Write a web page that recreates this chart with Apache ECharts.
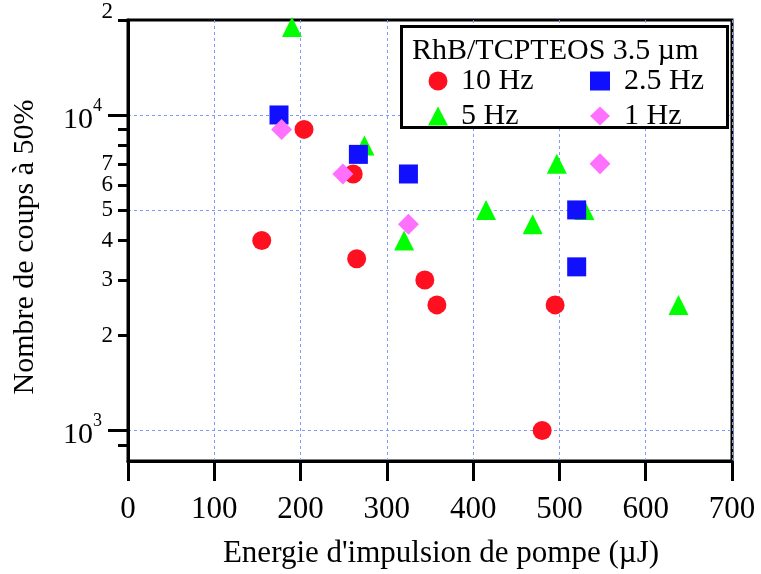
<!DOCTYPE html>
<html><head><meta charset="utf-8">
<script src="https://cdn.jsdelivr.net/npm/echarts@6/dist/echarts.min.js"></script>
<style>html,body{margin:0;padding:0;background:#fff}#c{width:761px;height:574px}</style>
</head><body><div id="c"></div>
<script>
const xTicks = [0, 100, 200, 300, 400, 500, 600, 700];
const yLabelValues = [1000, 2000, 3000, 4000, 5000, 6000, 7000, 10000, 20000];
const yMajorTicks = [1000, 10000];
const yMinorTicks = [900, 2000, 3000, 4000, 5000, 6000, 7000, 8000, 9000, 20000];
const yGridValues = [1000, 5000, 10000];

const legendTitle = 'RhB/TCPTEOS 3.5 µm';
const names = ['10 Hz', '5 Hz', '2.5 Hz', '1 Hz'];

const hz10_x = [155, 204, 261, 265, 344, 358, 495, 480];
const hz10_y = [4000, 9000, 6500, 3500, 3000, 2500, 2500, 1000];
const hz5_x = [190, 274, 320, 415, 469, 497, 529, 638];
const hz5_y = [19000, 8000, 4000, 5000, 4500, 7000, 5000, 2500];
const hz25_x = [175, 267, 325, 520, 520];
const hz25_y = [10000, 7500, 6500, 5000, 3300];
const hz1_x = [178, 249, 325, 547];
const hz1_y = [9000, 6500, 4500, 7000];

const F = 'Liberation Serif';
const zip = (a, b) => a.map((v, i) => [v, b[i]]);

const yBase = { type: 'log', logBase: 10, min: 800, max: 20000, position: 'left', offset: 0, gridIndex: 0 };
const gridLine = { color: '#7f99ff', type: [3, 3], width: 1 };

const option = {
  animation: false,
  backgroundColor: '#fff',
  title: {
    text: legendTitle, left: 407, top: 31, z: 20,
    textStyle: { fontFamily: F, fontSize: 30, fontWeight: 'normal', color: '#000' }
  },
  graphic: [{
    type: 'rect', z: 5, shape: { x: 401.5, y: 26.5, width: 326, height: 101 },
    style: { fill: '#fff', stroke: '#000', lineWidth: 3 }
  }],
  legend: [{
    data: [names[0], names[1]], orient: 'vertical', left: 423, top: 61, z: 20,
    itemWidth: 20, itemHeight: 19, itemGap: 5,
    textStyle: { fontFamily: F, fontSize: 30, color: '#000', padding: [0, 0, 0, 8] }
  }, {
    data: [names[2], names[3]], orient: 'vertical', left: 585, top: 61, z: 20,
    itemWidth: 20, itemHeight: 19, itemGap: 5,
    textStyle: { fontFamily: F, fontSize: 30, color: '#000', padding: [0, 0, 0, 9] }
  }],
  grid: { left: 128, right: 29, top: 20, bottom: 112, show: true, borderColor: '#000', borderWidth: 3, backgroundColor: 'transparent' },
  xAxis: {
    type: 'value', min: xTicks[0], max: xTicks[xTicks.length - 1], interval: 100,
    name: "Energie d'impulsion de pompe (µJ)", nameLocation: 'middle', nameGap: 77,
    nameTextStyle: { fontFamily: F, fontSize: 31, color: '#000', padding: [0, 0, 0, 22] },
    axisLine: { lineStyle: { color: '#000', width: 3 } },
    axisTick: { inside: false, length: 20, lineStyle: { color: '#000', width: 3 } },
    axisLabel: { fontFamily: F, fontSize: 31, color: '#000', margin: 33 },
    splitLine: { show: true, lineStyle: gridLine }
  },
  yAxis: [
    Object.assign({}, yBase, {
      name: 'Nombre de coups à 50%', nameLocation: 'middle', nameGap: 88,
      nameTextStyle: { fontFamily: F, fontSize: 30, color: '#000', padding: [0, 13, 0, 0] },
      axisLine: { show: true, lineStyle: { color: '#000', width: 3 } },
      axisTick: { show: true, customValues: yMajorTicks, length: 20, lineStyle: { color: '#000', width: 3 } },
      axisLabel: {
        customValues: yLabelValues, margin: 15,
        formatter: function (v) {
          const e = Math.round(Math.log10(v));
          if (Math.abs(v - Math.pow(10, e)) < 1e-6) return '{b|10}{s|' + e + '}';
          const d = Math.round(v / Math.pow(10, Math.floor(Math.log10(v) + 1e-9)));
          return v === yLabelValues[yLabelValues.length - 1] ? '{t|' + d + '}' : '{n|' + d + '}';
        },
        rich: {
          n: { fontFamily: F, fontSize: 23, color: '#000' },
          t: { fontFamily: F, fontSize: 23, color: '#000', padding: [0, 0, 16, 0] },
          b: { fontFamily: F, fontSize: 30, color: '#000', lineHeight: 30, padding: [10, 0, 0, 0] },
          s: { fontFamily: F, fontSize: 18, color: '#000', lineHeight: 18, padding: [2, 11, 20, 0] }
        }
      },
      splitLine: { show: false }
    }),
    Object.assign({}, yBase, {
      axisLine: { show: false },
      axisTick: { show: true, customValues: yMinorTicks, length: 10, lineStyle: { color: '#000', width: 3 } },
      axisLabel: { show: false },
      splitLine: { show: false }
    }),
    Object.assign({}, yBase, {
      axisLine: { show: false },
      axisTick: { show: false, customValues: yGridValues },
      axisLabel: { show: false },
      splitLine: { show: true, lineStyle: gridLine }
    })
  ],
  series: [
    { name: names[0], type: 'scatter', yAxisIndex: 0, symbol: 'circle', symbolSize: 19, itemStyle: { color: '#ff1020', opacity: 1 }, data: zip(hz10_x, hz10_y), z: 2 },
    { name: names[1], type: 'scatter', yAxisIndex: 0, symbol: 'triangle', symbolSize: 20, itemStyle: { color: '#00ff00', opacity: 1 }, data: zip(hz5_x, hz5_y), z: 3 },
    { name: names[2], type: 'scatter', yAxisIndex: 0, symbol: 'rect', symbolSize: 19, itemStyle: { color: '#1010ff', opacity: 1 }, data: zip(hz25_x, hz25_y), z: 4 },
    { name: names[3], type: 'scatter', yAxisIndex: 0, symbol: 'diamond', symbolSize: 21, itemStyle: { color: '#ff70ff', opacity: 1 }, data: zip(hz1_x, hz1_y), z: 5 }
  ]
};
const chart = echarts.init(document.getElementById('c'), null, { renderer: 'canvas' });
chart.setOption(option);
</script>
</body></html>
